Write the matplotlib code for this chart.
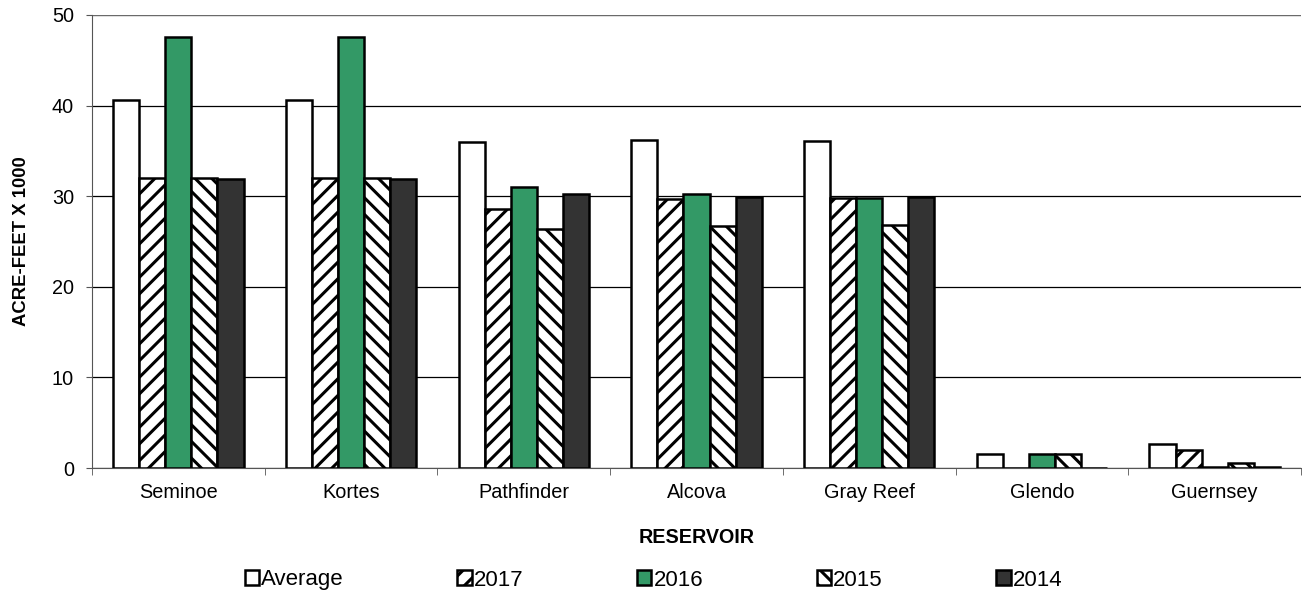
import matplotlib
matplotlib.use("Agg")
import matplotlib.pyplot as plt
import numpy as np

plt.rcParams["font.family"] = ["Liberation Sans", "DejaVu Sans"]
plt.rcParams["hatch.linewidth"] = 2.2
plt.rcParams["hatch.color"] = "#333333"

# data (acre-feet x 1000)
reservoirs = ["Seminoe", "Kortes", "Pathfinder", "Alcova", "Gray Reef", "Glendo", "Guernsey"]
series_names = ["Average", "2017", "2016", "2015", "2014"]
avg_vals = [40.6, 40.6, 36.0, 36.2, 36.1, 1.5, 2.6]
y2017 = [32.0, 32.0, 28.6, 29.7, 29.8, 0.05, 2.0]
y2016 = [47.6, 47.6, 31.0, 30.2, 29.8, 1.5, 0.1]
y2015 = [32.0, 32.0, 26.4, 26.7, 26.8, 1.6, 0.5]
y2014 = [31.9, 31.9, 30.2, 29.9, 29.9, 0.05, 0.1]

styles = [
    dict(color="white", hatch=None),
    dict(color="white", hatch="//"),
    dict(color="#339966", hatch=None),
    dict(color="white", hatch="\\\\"),
    dict(color="#333333", hatch=None),
]

fig = plt.figure(figsize=(13.02, 5.92), dpi=100)
ax = fig.add_axes([92 / 1302, 1 - 468 / 592, 1 - 92 / 1302 - 1 / 1302, (468 - 15) / 592])

x = np.arange(len(reservoirs))
width = 0.151
for i, (name, vals) in enumerate(zip(series_names, [avg_vals, y2017, y2016, y2015, y2014])):
    st = styles[i]
    ax.bar(x + (i - 2) * width, vals, width, color=st["color"], hatch=st["hatch"],
           edgecolor="black", linewidth=1.8, label=name, zorder=3)

ax.set_xlim(-0.5, len(reservoirs) - 0.5)
ax.set_ylim(0, 50)
ax.set_yticks(np.arange(0, 51, 10))
ax.yaxis.grid(True, color="black", linewidth=0.9, zorder=0)
ax.set_axisbelow(True)

ax.set_xticks(x)
ax.set_xticklabels(reservoirs, fontsize=14.3)
ax.set_xticks(np.arange(-0.5, len(reservoirs)), minor=True)
ax.tick_params(axis="x", which="major", length=0, pad=10.5)
ax.tick_params(axis="x", which="minor", length=5, color="#555555", direction="out")
ax.tick_params(axis="y", length=4.5, color="#555555", labelsize=14.3, pad=8.5)

for side in ["top", "right"]:
    ax.spines[side].set_visible(False)
ax.spines["left"].set_color("#555555")
ax.spines["bottom"].set_color("#555555")
ax.axhline(50, color="#808080", linewidth=1.2, zorder=1)

ax.set_ylabel("ACRE-FEET X 1000", fontsize=13.3, fontweight="bold", labelpad=16)
ax.set_xlabel("RESERVOIR", fontsize=14.2, fontweight="bold", labelpad=19)

fig.legend(loc="center", bbox_to_anchor=(0.502, 1 - 580 / 592), ncol=5, frameon=False,
           fontsize=16, handlelength=0.65, handleheight=0.65, handletextpad=0.1,
           columnspacing=5.1, borderpad=0)

fig.savefig("out.png", dpi=100)
